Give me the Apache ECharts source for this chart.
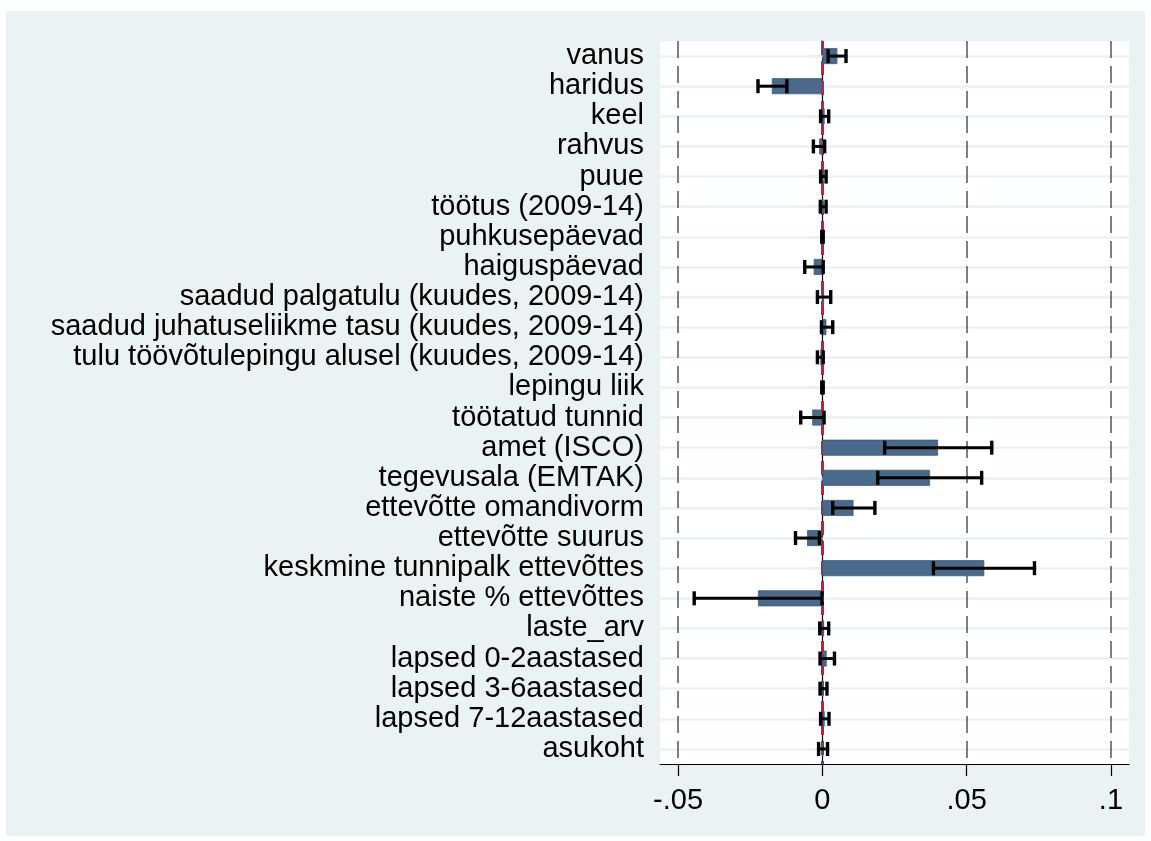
<!DOCTYPE html>
<html>
<head>
<meta charset="utf-8">
<script src="https://cdn.jsdelivr.net/npm/echarts@6/dist/echarts.min.js"></script>
<style>
  html, body { margin: 0; padding: 0; background: #ffffff; }
  #chart { width: 1151px; height: 841px; }
</style>
</head>
<body>
<div id="chart"></div>
<script>
// Variable names, top to bottom
const categories = [
  'vanus', 'haridus', 'keel', 'rahvus', 'puue', 'töötus (2009-14)',
  'puhkusepäevad', 'haiguspäevad',
  'saadud palgatulu (kuudes, 2009-14)',
  'saadud juhatuseliikme tasu (kuudes, 2009-14)',
  'tulu töövõtulepingu alusel (kuudes, 2009-14)',
  'lepingu liik', 'töötatud tunnid', 'amet (ISCO)', 'tegevusala (EMTAK)',
  'ettevõtte omandivorm', 'ettevõtte suurus', 'keskmine tunnipalk ettevõttes',
  'naiste % ettevõttes', 'laste_arv', 'lapsed 0-2aastased',
  'lapsed 3-6aastased', 'lapsed 7-12aastased', 'asukoht'
];

// Point estimates
const estimates = [
  0.0052, -0.0175, 0.0008, -0.0011, 0.0004, 0.0003,
  0.0001, -0.0030, 0.0006, 0.0014, -0.0007,
  0.0001, -0.0035, 0.0401, 0.0373,
  0.0108, -0.0053, 0.0561,
  -0.0223, 0.0006, 0.0015,
  0.0004, 0.0008, 0.0003
];

// Confidence interval bounds
const ciLow = [
  0.0020, -0.0223, -0.0006, -0.0031, -0.0006, -0.0007,
  -0.0002, -0.0061, -0.0017, -0.0003, -0.0017,
  -0.0002, -0.0075, 0.0216, 0.0192,
  0.0036, -0.0093, 0.0385,
  -0.0444, -0.0009, -0.0008,
  -0.0008, -0.0006, -0.0013
];
const ciHigh = [
  0.0082, -0.0123, 0.0022, 0.0008, 0.0013, 0.0013,
  0.0003, 0.0003, 0.0029, 0.0036, 0.0003,
  0.0003, 0.0006, 0.0587, 0.0552,
  0.0182, -0.0010, 0.0735,
  -0.0001, 0.0022, 0.0042,
  0.0016, 0.0023, 0.0018
];

// x-axis ticks and their labels
const xTicks = [-0.05, 0, 0.05, 0.1];
const xTickLabels = ['-.05', '0', '.05', '.1'];
const refLines = [-0.05, 0.05, 0.1];

const FONT = '"Liberation Sans", Arial, sans-serif';

const chart = echarts.init(document.getElementById('chart'), null, { renderer: 'canvas' });

const ciData = categories.map((c, i) => [i, ciLow[i], ciHigh[i]]);

chart.setOption({
  backgroundColor: '#ffffff',
  animation: false,
  graphic: [{
    type: 'rect', z: -100, silent: true,
    shape: { x: 6, y: 11, width: 1139, height: 825 },
    style: { fill: '#eaf2f3' }
  }],
  grid: {
    left: 660, top: 41, width: 469, height: 723,
    show: true, backgroundColor: '#ffffff', borderWidth: 0
  },
  xAxis: {
    type: 'value',
    min: -0.05625, max: 0.10625,
    axisLine: { show: true, onZero: false, lineStyle: { color: '#000', width: 1.2 } },
    axisTick: { show: true, customValues: xTicks, length: 12, lineStyle: { color: '#000', width: 1.2 } },
    axisLabel: {
      customValues: xTicks, margin: 22,
      fontSize: 29, color: '#000', fontFamily: FONT,
      formatter: v => {
        const k = xTicks.findIndex(t => Math.abs(t - v) < 1e-9);
        return k >= 0 ? xTickLabels[k] : '';
      }
    },
    splitLine: { show: false }
  },
  yAxis: {
    type: 'category',
    data: categories,
    inverse: true,
    axisLine: { show: true, lineStyle: { color: '#000', width: 1.2 } },
    axisTick: { show: true, interval: 0, alignWithLabel: true, length: 12, lineStyle: { color: '#000', width: 1.2 } },
    axisLabel: { interval: 0, margin: 16, fontSize: 29, color: '#000', fontFamily: FONT },
    splitLine: { show: false }
  },
  series: [
    {
      // horizontal grid lines at each variable
      type: 'line', data: [], silent: true, z: 1,
      markLine: {
        z: 1,
        symbol: 'none', silent: true, animation: false,
        label: { show: false },
        emphasis: { disabled: true },
        lineStyle: { color: '#eaf2f3', width: 2.5, type: 'solid' },
        data: categories.map(c => ({ yAxis: c }))
      }
    },
    {
      // dashed reference lines
      type: 'line', data: [], silent: true, z: 2,
      markLine: {
        z: 2,
        symbol: 'none', silent: true, animation: false,
        label: { show: false },
        emphasis: { disabled: true },
        data: refLines.map(v => ({
          xAxis: v,
          lineStyle: { color: '#555', width: 1.5, type: [17, 8] }
        })).concat([{
          xAxis: 0,
          lineStyle: { color: '#d5173e', width: 3, type: [14, 6] }
        }])
      }
    },
    {
      type: 'bar',
      data: estimates,
      barWidth: 16,
      z: 3,
      itemStyle: { color: '#4a6a8c', borderColor: '#3c5c7f', borderWidth: 0.8 }
    },
    {
      type: 'custom',
      z: 4,
      data: ciData,
      renderItem: (params, api) => {
        const idx = api.value(0);
        const p0 = api.coord([api.value(1), idx]);
        const p1 = api.coord([api.value(2), idx]);
        const h = 7;
        return {
          type: 'group',
          children: [
            { type: 'line', shape: { x1: p0[0], y1: p0[1], x2: p1[0], y2: p1[1] }, style: { stroke: '#000', lineWidth: 3 } },
            { type: 'line', shape: { x1: p0[0], y1: p0[1] - h, x2: p0[0], y2: p0[1] + h }, style: { stroke: '#000', lineWidth: 3.4 } },
            { type: 'line', shape: { x1: p1[0], y1: p1[1] - h, x2: p1[0], y2: p1[1] + h }, style: { stroke: '#000', lineWidth: 3.4 } }
          ]
        };
      }
    }
  ]
});
</script>
</body>
</html>
